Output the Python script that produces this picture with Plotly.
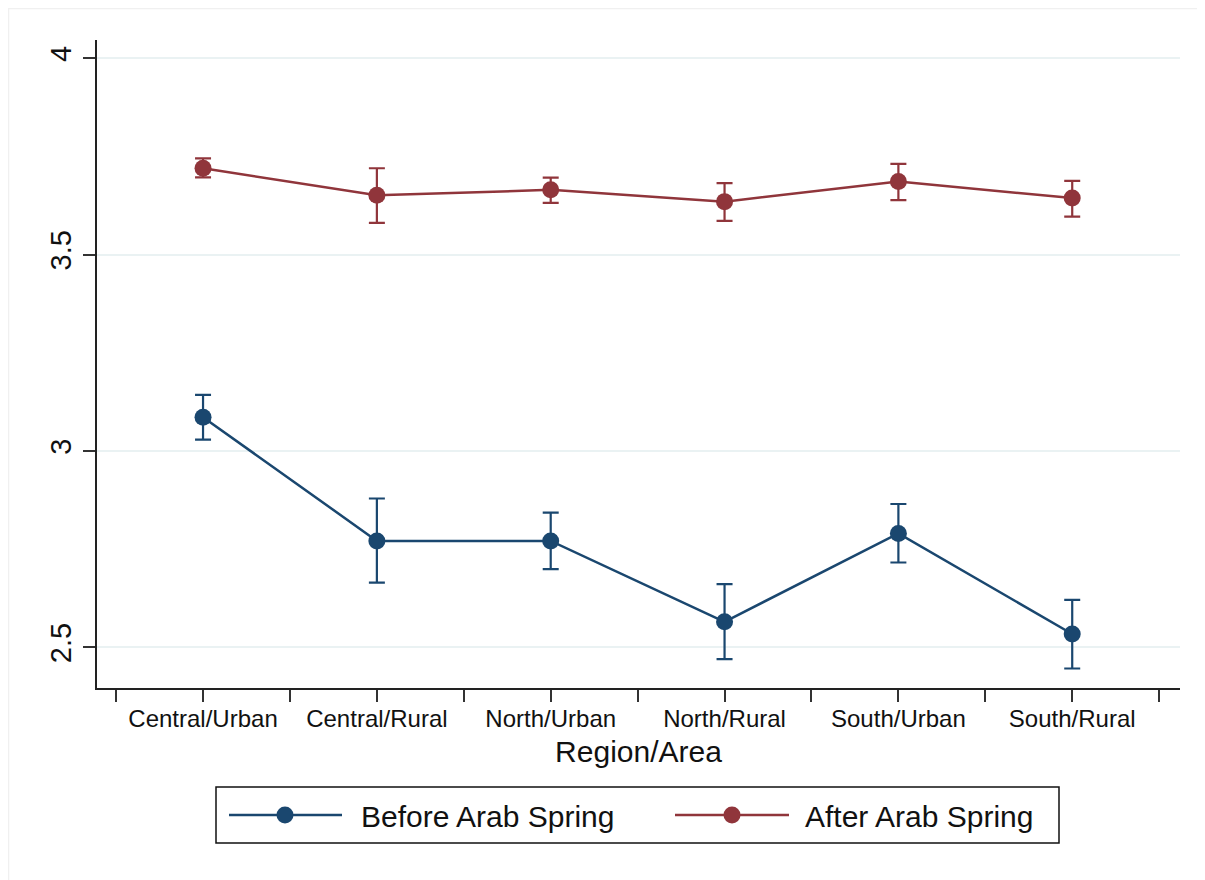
import plotly.graph_objects as go

categories = ["Central/Urban", "Central/Rural", "North/Urban", "North/Rural", "South/Urban", "South/Rural"]

before_mean = [3.086, 2.771, 2.771, 2.565, 2.790, 2.534]
before_low = [3.029, 2.665, 2.699, 2.470, 2.716, 2.446]
before_high = [3.143, 2.879, 2.843, 2.661, 2.865, 2.621]

after_mean = [3.720, 3.651, 3.665, 3.635, 3.686, 3.644]
after_low = [3.697, 3.581, 3.632, 3.586, 3.639, 3.597]
after_high = [3.745, 3.720, 3.696, 3.682, 3.731, 3.688]

y_ticks = [2.5, 3, 3.5, 4]
y_ticktext = ["2.5", "3", "3.5", "4"]

series_names = ["Before Arab Spring", "After Arab Spring"]
NAVY = "#1a476f"
MAROON = "#90353b"
FONT = "Liberation Sans, Arial, Helvetica, sans-serif"

xpos = list(range(len(categories)))

fig = go.Figure()

for name, mean, low, high, color in [
    (series_names[0], before_mean, before_low, before_high, NAVY),
    (series_names[1], after_mean, after_low, after_high, MAROON),
]:
    fig.add_trace(go.Scatter(
        x=xpos, y=mean, name=name, mode="lines+markers",
        line=dict(color=color, width=2.5),
        marker=dict(color=color, size=17, symbol="circle"),
        error_y=dict(type="data", symmetric=False,
                     array=[h - m for h, m in zip(high, mean)],
                     arrayminus=[m - l for m, l in zip(mean, low)],
                     color=color, thickness=2.2, width=8),
        showlegend=False,
    ))

fig.update_xaxes(
    range=[-0.61, 5.62],
    tickmode="array", tickvals=xpos, ticktext=categories,
    ticks="outside", ticklen=12, tickwidth=1.5, tickcolor="#333333",
    minor=dict(tickmode="linear", tick0=-0.5, dtick=1, ticks="outside",
               ticklen=12, tickwidth=1.5, tickcolor="#333333", showgrid=False),
    showline=True, linecolor="#222222", linewidth=2,
    showgrid=False, zeroline=False,
    ticklabelstandoff=-4,
    tickfont=dict(family=FONT, size=24, color="#111111"),
    title=dict(text="Region/Area", font=dict(family=FONT, size=30, color="#111111"), standoff=10),
)

fig.update_yaxes(
    range=[2.3964, 4.0466],
    tickmode="array", tickvals=y_ticks, ticktext=y_ticktext,
    tickangle=-90,
    ticks="outside", ticklen=12, tickwidth=1.5, tickcolor="#333333",
    showline=True, linecolor="#222222", linewidth=2,
    showgrid=True, gridcolor="#eaf2f3", gridwidth=2,
    zeroline=False,
    tickfont=dict(family=FONT, size=29, color="#111111"),
)

# Legend drawn manually (Stata style box); screen pixel -> paper helpers
PX_L, PX_R, PX_T, PX_B = 97, 1180, 40, 688
def px(xp):
    return (xp - PX_L) / (PX_R - PX_L)
def py(yp):
    return (PX_B - yp) / (PX_B - PX_T)

shapes = [
    dict(type="rect", xref="paper", yref="paper",
         x0=px(216), x1=px(1059), y0=py(843), y1=py(787),
         line=dict(color="#111111", width=1.5), fillcolor="rgba(0,0,0,0)"),
]
annotations = []
legend_items = [(series_names[0], NAVY, 229, 342, 285, 359),
                (series_names[1], MAROON, 675, 789, 732, 803)]
for name, color, lx0, lx1, mx, tx in legend_items:
    shapes.append(dict(type="line", xref="paper", yref="paper",
                       x0=px(lx0), x1=px(lx1), y0=py(815), y1=py(815),
                       line=dict(color=color, width=2.5)))
    r = 8.5
    shapes.append(dict(type="circle", xref="paper", yref="paper",
                       x0=px(mx - r), x1=px(mx + r), y0=py(815 + r), y1=py(815 - r),
                       line=dict(color=color, width=0), fillcolor=color))
    annotations.append(dict(text=name, xref="paper", yref="paper",
                            x=px(tx), y=py(816), xanchor="left", yanchor="middle",
                            showarrow=False,
                            font=dict(family=FONT, size=30, color="#111111")))

# faint outer frame of the graph region
shapes.append(dict(type="line", xref="paper", yref="paper",
                   x0=px(8), x1=px(1205), y0=py(8.5), y1=py(8.5),
                   line=dict(color="#f0f0f0", width=1.5)))
shapes.append(dict(type="line", xref="paper", yref="paper",
                   x0=px(8.5), x1=px(8.5), y0=py(8), y1=py(880),
                   line=dict(color="#f0f0f0", width=1.5)))

# page body has an 8px margin: figure spans screen 8..1205 / 8..880
fig.update_layout(
    width=1197, height=872,
    margin=dict(l=89, r=25, t=32, b=192),
    plot_bgcolor="white", paper_bgcolor="white",
    shapes=shapes, annotations=annotations,
    showlegend=False,
    font=dict(family=FONT),
)

fig.write_html("out.html")
